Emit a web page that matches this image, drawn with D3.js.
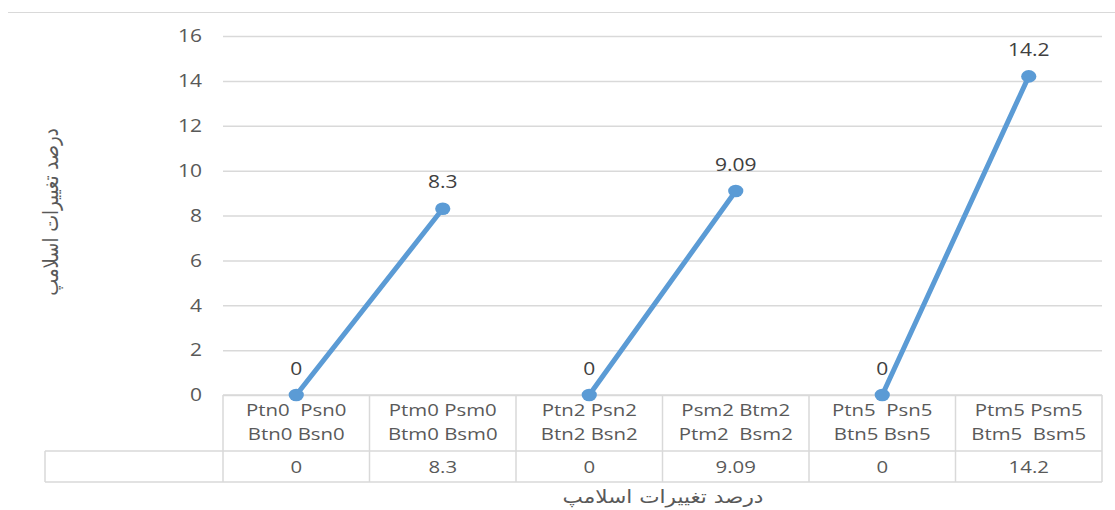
<!DOCTYPE html>
<html>
<head>
<meta charset="utf-8">
<script src="https://cdn.jsdelivr.net/npm/d3@7"></script>
<style>
  html, body { margin: 0; padding: 0; background: #fff; }
  svg { display: block; }
  text { font-family: "Open Sans", "DejaVu Sans", sans-serif; white-space: pre; }
  .fa { font-family: "DejaVu Sans", sans-serif; }
</style>
</head>
<body>
<svg id="chart" width="1115" height="510"></svg>
<script>
// Slump change per mix
const categoryLine1 = ["Ptn0  Psn0", "Ptm0 Psm0", "Ptn2 Psn2", "Psm2 Btm2", "Ptn5  Psn5", "Ptm5 Psm5"];
const categoryLine2 = ["Btn0 Bsn0", "Btm0 Bsm0", "Btn2 Bsn2", "Ptm2  Bsm2", "Btn5 Bsn5", "Btm5  Bsm5"];
const slumpChange = [0, 8.3, 0, 9.09, 0, 14.2];
const valueLabels = ["0", "8.3", "0", "9.09", "0", "14.2"];
// each fibre level is drawn as its own segment (base mix -> modified mix)
const segmentGroup = ["0", "0", "2", "2", "5", "5"];
const yTicks = [0, 2, 4, 6, 8, 10, 12, 14, 16];
const axisTitle = "درصد تغییرات اسلامپ";

const svg = d3.select("#chart");
const plot = { left: 223, right: 1102, top: 36, bottom: 395 };
const tableRow1 = 451, tableRow2 = 482, legendLeft = 45;
const gridColor = "#d9d9d9";
const lineColor = "#5b9bd5";
const textColor = "#595959";
const SX = 1.2; // horizontal widening of the typeface

const idx = d3.range(slumpChange.length);
const x = d3.scaleBand().domain(idx).range([plot.left, plot.right]);
const y = d3.scaleLinear().domain([0, 16]).range([plot.bottom, plot.top]);
const cx = i => x(i) + x.bandwidth() / 2;

// text helper: places a label at (px, py) with a widened glyph shape
function label(sel, px, py, anchor) {
  return sel.attr("transform", (d, i) => {
      const X = typeof px === "function" ? px(d, i) : px;
      const Y = typeof py === "function" ? py(d, i) : py;
      return `translate(${X},${Y}) scale(${SX},1)`;
    })
    .attr("text-anchor", anchor || "middle");
}

// outer frame (top edge visible)
svg.append("line")
  .attr("x1", 8).attr("x2", 1115).attr("y1", 12.5).attr("y2", 12.5)
  .attr("stroke", gridColor).attr("stroke-width", 1);

// gridlines
const yAxis = d3.axisLeft(y).tickValues(yTicks).tickSize(-(plot.right - plot.left)).tickFormat("");
const gy = svg.append("g").attr("transform", `translate(${plot.left},0)`).call(yAxis);
gy.select(".domain").remove();
gy.selectAll(".tick line").attr("stroke", gridColor).attr("stroke-width", 1.5);

// y tick labels
label(svg.append("g").selectAll("text").data(yTicks).join("text"),
      202, d => y(d) + 6.3, "end")
  .attr("fill", textColor).style("font-size", "17.5px")
  .text(d => d3.format("d")(d));

// data table: column separators
svg.append("g").selectAll("line").data(d3.range(idx.length + 1)).join("line")
  .attr("x1", i => i < idx.length ? x(i) : plot.right)
  .attr("x2", i => i < idx.length ? x(i) : plot.right)
  .attr("y1", plot.bottom).attr("y2", tableRow2)
  .attr("stroke", gridColor).attr("stroke-width", 1.5);
// horizontal rules of the table
svg.append("line").attr("x1", plot.left).attr("x2", plot.right)
  .attr("y1", plot.bottom).attr("y2", plot.bottom).attr("stroke", gridColor).attr("stroke-width", 1.5);
svg.append("line").attr("x1", legendLeft).attr("x2", plot.right)
  .attr("y1", tableRow1).attr("y2", tableRow1).attr("stroke", gridColor).attr("stroke-width", 1.5);
svg.append("line").attr("x1", legendLeft).attr("x2", plot.right)
  .attr("y1", tableRow2).attr("y2", tableRow2).attr("stroke", gridColor).attr("stroke-width", 1.5);
svg.append("line").attr("x1", legendLeft).attr("x2", legendLeft)
  .attr("y1", tableRow1).attr("y2", tableRow2).attr("stroke", gridColor).attr("stroke-width", 1.5);

// category labels (two lines)
label(svg.append("g").selectAll("text").data(idx).join("text"), cx, 416)
  .attr("fill", textColor).style("font-size", "17px")
  .text(i => categoryLine1[i]);
label(svg.append("g").selectAll("text").data(idx).join("text"), cx, 440)
  .attr("fill", textColor).style("font-size", "17px")
  .text(i => categoryLine2[i]);

// values row
label(svg.append("g").selectAll("text").data(idx).join("text"), cx, 473)
  .attr("fill", textColor).style("font-size", "17px")
  .text(i => valueLabels[i]);

// series segments
const line = d3.line().x(cx).y(i => y(slumpChange[i]));
const groups = d3.groups(idx, i => segmentGroup[i]);
svg.append("g").selectAll("path").data(groups).join("path")
  .attr("d", g => line(g[1]))
  .attr("fill", "none").attr("stroke", lineColor)
  .attr("stroke-width", 5).attr("stroke-linecap", "round");

// markers
svg.append("g").selectAll("ellipse").data(idx).join("ellipse")
  .attr("cx", cx).attr("cy", i => y(slumpChange[i]))
  .attr("rx", 7.6).attr("ry", 6.3)
  .attr("fill", lineColor);

// data labels
label(svg.append("g").selectAll("text").data(idx).join("text"),
      cx, i => y(slumpChange[i]) - 20.5)
  .attr("fill", "#404040").style("font-size", "17.5px")
  .text(i => valueLabels[i]);

// axis titles
svg.append("text").attr("class", "fa")
  .attr("transform", `translate(58,212) scale(${SX},1) rotate(-90)`)
  .attr("text-anchor", "middle").attr("fill", textColor)
  .style("font-size", "18px").text(axisTitle);
svg.append("text").attr("class", "fa")
  .attr("transform", `translate(663,503) scale(${SX},1)`)
  .attr("text-anchor", "middle").attr("fill", textColor)
  .style("font-size", "18px").text(axisTitle);
</script>
</body>
</html>
